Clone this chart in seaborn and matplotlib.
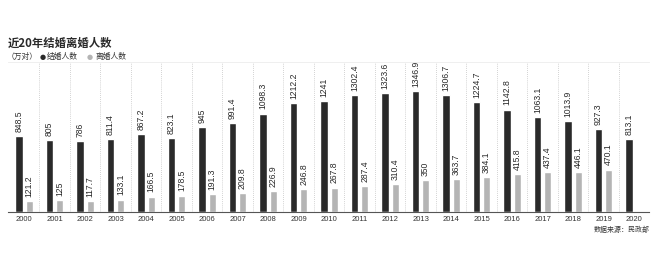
import matplotlib
matplotlib.use("Agg")
import matplotlib.pyplot as plt
import seaborn as sns
import pandas as pd
import numpy as np

years = [str(y) for y in range(2000, 2021)]
marriage = [848.5, 805, 786, 811.4, 867.2, 823.1, 945, 991.4, 1098.3, 1212.2, 1241,
            1302.4, 1323.6, 1346.9, 1306.7, 1224.7, 1142.8, 1063.1, 1013.9, 927.3, 813.1]
divorce = [121.2, 125, 117.7, 133.1, 166.5, 178.5, 191.3, 209.8, 226.9, 246.8, 267.8,
           287.4, 310.4, 350, 363.7, 384.1, 415.8, 437.4, 446.1, 470.1, np.nan]
series_names = ["结婚人数", "离婚人数"]
colors = ["#2a2a2a", "#b4b4b4"]

df = pd.concat([
    pd.DataFrame({"year": years, "value": marriage, "type": series_names[0]}),
    pd.DataFrame({"year": years, "value": divorce, "type": series_names[1]}),
], ignore_index=True)

sns.set_theme(style="white")
plt.rcParams['font.family'] = ['Noto Sans CJK SC', 'DejaVu Sans']

W, H = 658, 258
fig = plt.figure(figsize=(W / 100, H / 100), dpi=100)
fig.patch.set_facecolor("white")
ax = fig.add_axes([8 / W, (H - 211.5) / H, (649 - 8) / W, (211.5 - 62) / H])

sns.barplot(data=df, x="year", y="value", hue="type", hue_order=series_names,
            palette=colors, width=0.66, gap=0.3, saturation=1, legend=False,
            ax=ax, errorbar=None)

ax.set_xlim(-0.525, 20.49)
ax.set_ylim(0, 1676)
ax.set_xlabel("")
ax.set_ylabel("")
ax.set_yticks([])
for s in ["left", "right"]:
    ax.spines[s].set_visible(False)
ax.spines["top"].set_color("#ececec")
ax.spines["top"].set_linewidth(0.6)
ax.spines["bottom"].set_color("#555555")
ax.spines["bottom"].set_linewidth(0.8)

for i in range(len(years) - 1):
    ax.axvline(i + 0.5, color="#c4c4c4", linestyle=(0, (1, 1.5)), linewidth=0.6, zorder=0)

ax.tick_params(axis="x", length=0, pad=3, labelsize=5.5, labelcolor="#333333")
for lab in ax.get_xticklabels():
    lab.set_family(["Liberation Sans", "DejaVu Sans"])

for cont in ax.containers:
    labels = []
    for b in cont:
        h = b.get_height()
        labels.append("" if (h is None or np.isnan(h)) else "%g" % h)
    ax.bar_label(cont, labels=labels, rotation=90, padding=3, fontsize=6.2,
                 color="#2a2a2a", family=["Liberation Sans Narrow", "Liberation Sans", "DejaVu Sans"])

fig.text(8 / W, 1 - 43 / H, "近20年结婚离婚人数", fontsize=8.2, color="#2a2a2a", weight="bold",
         va="center", ha="left", family=["Noto Sans CJK SC", "DejaVu Sans"])
ly = 1 - 57 / H
fig.text(7 / W, ly, "（万对）", fontsize=5.6, color="#333333", va="center", ha="left")
fig.text(40 / W, ly, "●", fontsize=5, color=colors[0], va="center", ha="left", family=["DejaVu Sans"])
fig.text(47 / W, ly, series_names[0], fontsize=5.6, color="#333333", va="center", ha="left")
fig.text(87 / W, ly, "●", fontsize=5, color=colors[1], va="center", ha="left", family=["DejaVu Sans"])
fig.text(95 / W, ly, series_names[1], fontsize=5.6, color="#333333", va="center", ha="left")
fig.text(650 / W, 1 - 230 / H, "数据来源：民政部", fontsize=5, color="#333333",
         va="center", ha="right")

fig.savefig("out.png", dpi=100, facecolor="white")
